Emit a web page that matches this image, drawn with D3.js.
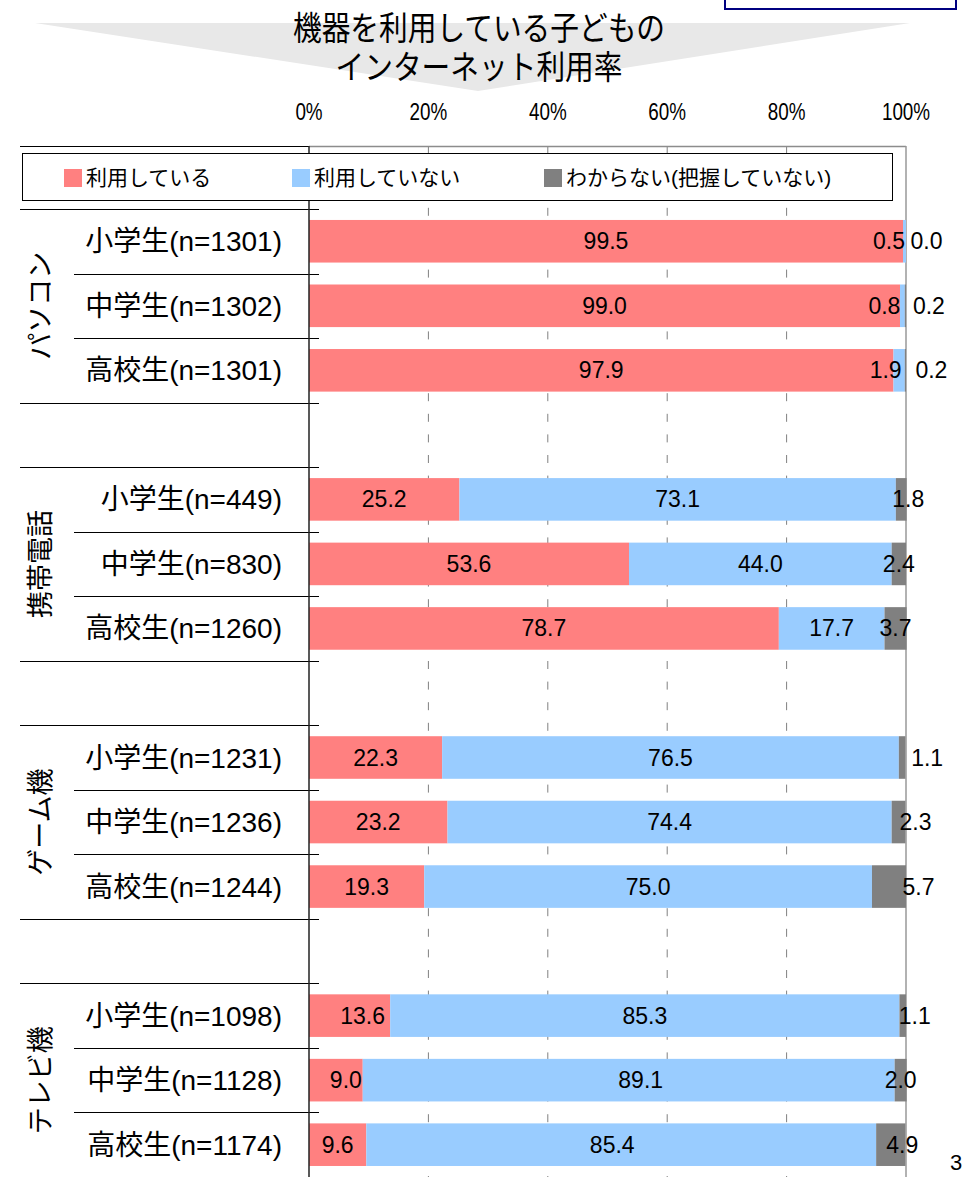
<!DOCTYPE html>
<html>
<head>
<meta charset="utf-8">
<script src="https://cdn.jsdelivr.net/npm/d3@7"></script>
<style>
  body { margin: 0; background: #fff; }
  svg text { font-family: "Liberation Sans", Arial, "Noto Sans CJK JP", sans-serif; fill: #000; }
</style>
</head>
<body>
<div id="chart"></div>
<script>
// --- data ---
const devices = ["パソコン", "携帯電話", "ゲーム機", "テレビ機"];
const grades = ["小学生", "中学生", "高校生"];
const sampleN = [1301, 1302, 1301, 449, 830, 1260, 1231, 1236, 1244, 1098, 1128, 1174];
const using = [99.5, 99.0, 97.9, 25.2, 53.6, 78.7, 22.3, 23.2, 19.3, 13.6, 9.0, 9.6];
const notUsing = [0.5, 0.8, 1.9, 73.1, 44.0, 17.7, 76.5, 74.4, 75.0, 85.3, 89.1, 85.4];
const unknown = [0.0, 0.2, 0.2, 1.8, 2.4, 3.7, 1.1, 2.3, 5.7, 1.1, 2.0, 4.9];
const seriesNames = ["利用している", "利用していない", "わからない(把握していない)"];
const xTicks = [0, 20, 40, 60, 80, 100];
const titleLines = ["機器を利用している子どもの", "インターネット利用率"];

const colors = ["#ff8080", "#99ccff", "#808080"];
// hand placed labels in the original (px shift from segment centre)
const labelNudge = {
  "0-1": -15.5, "0-2": 20.5, "1-1": -18, "1-2": 23.5, "2-1": -13.5, "2-2": 26,
  "3-2": 7, "6-2": 25, "7-2": 17, "8-2": 29.5,
  "9-0": 13, "9-2": 12, "10-0": 10, "10-1": 12, "11-1": -9, "11-2": 11.5
};

// rows incl. blank spacer rows between devices
const rows = [];
devices.forEach(function(dev, g) {
  grades.forEach(function(gr, k) {
    const i = g * 3 + k;
    rows.push({ key: "r" + i, idx: i, group: g, k: k,
      label: gr + "(n=" + sampleN[i] + ")",
      v0: using[i], v1: notUsing[i], v2: unknown[i] });
  });
  if (g < devices.length - 1) rows.push({ key: "gap" + g, gap: true, group: g });
});
const bars = rows.filter(d => !d.gap);

const W = 970, H = 1177;
const svg = d3.select("#chart").append("svg")
  .attr("width", W).attr("height", H);

const x = d3.scaleLinear().domain([0, 100]).range([309, 906]);
const y = d3.scaleBand().domain(rows.map(d => d.key)).range([209, 209 + 15 * 64.53]).padding(0);
const step = y.step();
const barH = step * 0.66;

// title banner
svg.append("path")
  .attr("d", "M35,23 L910,23 L478,91 Z")
  .attr("fill", "#e8e8e8");
svg.append("rect")
  .attr("x", 725).attr("y", -10).attr("width", 231).attr("height", 19)
  .attr("fill", "none").attr("stroke", "#000080").attr("stroke-width", 2);
titleLines.forEach(function(t, i) {
  svg.append("text")
    .attr("transform", "translate(479," + (40 + i * 39) + ") scale(0.87,1)")
    .attr("text-anchor", "middle")
    .attr("font-size", "33px")
    .text(t);
});

// x tick labels
svg.append("g").selectAll("text")
  .data(xTicks).join("text")
  .attr("transform", d => "translate(" + x(d) + ",120) scale(0.82,1)")
  .attr("text-anchor", "middle")
  .attr("font-size", "23px")
  .text(d => d + "%");

// grid
svg.append("g").selectAll("line")
  .data(xTicks.slice(1, -1)).join("line")
  .attr("x1", d => x(d)).attr("x2", d => x(d))
  .attr("y1", 146).attr("y2", H)
  .attr("stroke", "#808080").attr("stroke-width", 1)
  .attr("stroke-dasharray", "8,12.6");

// plot frame
svg.append("line").attr("x1", 309).attr("x2", 906).attr("y1", 146.5).attr("y2", 146.5)
  .attr("stroke", "#8c8c8c").attr("stroke-width", 1.5);
svg.append("line").attr("x1", 906).attr("x2", 906).attr("y1", 146).attr("y2", H)
  .attr("stroke", "#999").attr("stroke-width", 1.5);
svg.append("line").attr("x1", 20).attr("x2", 309).attr("y1", 146.5).attr("y2", 146.5)
  .attr("stroke", "#000").attr("stroke-width", 1);

// table lines on the left
const lines = [];
rows.forEach(function(d, i) {
  const prev = rows[i - 1];
  const full = !prev || d.gap || prev.gap;
  lines.push({ y: y(d.key), x0: full ? 20 : 74 });
});
svg.append("g").selectAll("line")
  .data(lines).join("line")
  .attr("x1", d => d.x0).attr("x2", 319)
  .attr("y1", d => Math.round(d.y) + 0.5).attr("y2", d => Math.round(d.y) + 0.5)
  .attr("stroke", "#000").attr("stroke-width", 1);

// stacked bars
const stack = d3.stack().keys(["v0", "v1", "v2"]);
const series = stack(bars);
const gBars = svg.append("g");
series.forEach(function(s, si) {
  gBars.append("g").attr("fill", colors[si])
    .selectAll("rect").data(s).join("rect")
    .attr("x", d => x(d[0]))
    .attr("width", d => Math.max(0, x(d[1]) - x(d[0])))
    .attr("y", d => y(d.data.key) + (step - barH) / 2)
    .attr("height", barH);
});

// y axis line
svg.append("line").attr("x1", 309).attr("x2", 309).attr("y1", 146).attr("y2", H)
  .attr("stroke", "#222").attr("stroke-width", 1.5);

// value labels
const gLab = svg.append("g");
series.forEach(function(s, si) {
  gLab.append("g").selectAll("text").data(s).join("text")
    .attr("x", d => (x(d[0]) + x(d[1])) / 2 + (labelNudge[d.data.idx + "-" + si] || 0))
    .attr("y", d => y(d.data.key) + step / 2 + 8)
    .attr("text-anchor", "middle")
    .attr("font-size", "23px")
    .text(d => d.data["v" + si].toFixed(1));
});

// legend
const legX = [64, 292, 544];
svg.append("rect")
  .attr("x", 22.5).attr("y", 153.5).attr("width", 870).attr("height", 47)
  .attr("fill", "#fff").attr("stroke", "#000").attr("stroke-width", 1);
seriesNames.forEach(function(n, i) {
  svg.append("rect").attr("x", legX[i]).attr("y", 169).attr("width", 18).attr("height", 18)
    .attr("fill", colors[i]);
  svg.append("text").attr("x", legX[i] + 22).attr("y", 185)
    .attr("font-size", "21px").text(n);
});

// row labels
svg.append("g").selectAll("text")
  .data(bars).join("text")
  .attr("x", 282)
  .attr("y", d => y(d.key) + step / 2 + 10)
  .attr("text-anchor", "end")
  .attr("font-size", "28px")
  .text(d => d.label);

// device labels (vertical)
devices.forEach(function(dev, g) {
  const cy = y("r" + (g * 3)) + step * 1.5;
  svg.append("text")
    .attr("transform", "translate(50," + cy + ") rotate(-90)")
    .attr("text-anchor", "middle")
    .attr("font-size", "27px")
    .text(dev);
});

// page number
svg.append("text").attr("x", 950).attr("y", 1170).attr("font-size", "22px").text("3");
</script>
</body>
</html>
